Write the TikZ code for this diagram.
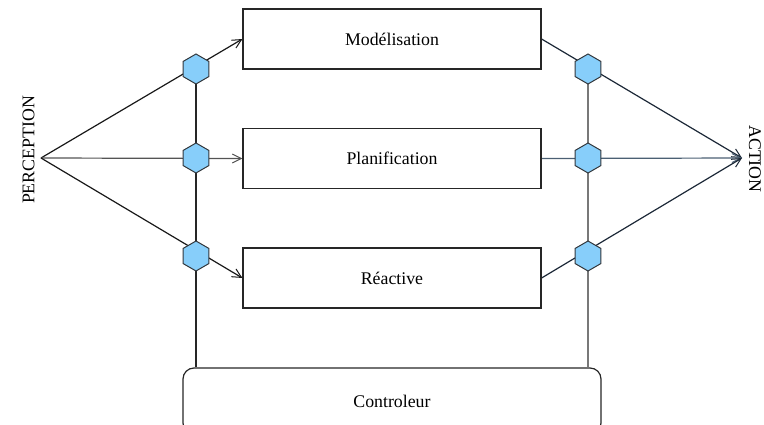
\documentclass[tikz,border=0pt]{standalone}
\usepackage{fontspec}
\setmainfont{Liberation Serif}
\usetikzlibrary{shapes.geometric,arrows.meta,backgrounds}
\definecolor{hexfill}{RGB}{135,206,250}
\definecolor{hexdraw}{RGB}{50,55,60}
\definecolor{navy}{RGB}{28,40,55}
\definecolor{midgray}{RGB}{120,120,120}
\definecolor{slate}{RGB}{75,95,115}
\tikzset{
  x=1pt, y=-1pt,
  every node/.style={font=\fontsize{17.8}{20}\selectfont},
  layerbox/.style={draw=black!85, line width=1.2pt, minimum width=298pt, minimum height=60pt, inner sep=0pt},
  ctrlbox/.style={draw=black!85, line width=1.2pt, rounded corners=11pt, minimum width=418pt, minimum height=66pt, inner sep=0pt},
  junction/.style={regular polygon, regular polygon sides=6, shape border rotate=30, draw=hexdraw, fill=hexfill, line width=1pt, minimum size=30pt, inner sep=0pt},
  wire/.style={line width=1.2pt},
  barb/.style={-{Straight Barb[length=9pt,width=9pt,line width=1pt]}},
  vert/.style={rotate=#1, inner sep=0pt}
}
\begin{document}
\begin{tikzpicture}
\useasboundingbox (0,0) rectangle (764,425);
\clip (0,0) rectangle (764,425);

% processing layers
\node[layerbox] (mod)  at (392,39)    {Modélisation};
\node[layerbox] (plan) at (392,158.5) {Planification};
\node[layerbox] (rea)  at (392,278)   {Réactive};
\node[ctrlbox]  (ctrl) at (392,401)   {Controleur};

% junctions on the input side
\node[junction] (l1) at (196,69)  {};
\node[junction] (l2) at (196,158) {};
\node[junction] (l3) at (196,256) {};
% junctions on the output side
\node[junction] (r1) at (588,69)  {};
\node[junction] (r2) at (588,158) {};
\node[junction] (r3) at (588,256) {};

% sensing and acting points
\coordinate (in)  at (41,158);
\coordinate (out) at (742,158);
\node[vert=90]  (perc) at (28.5,150) {PERCEPTION};
\node[vert=-90] (act)  at (755,159)  {ACTION};

\begin{scope}[on background layer]
  % perception fan
  \draw[wire, barb, color=black!90] (in) -- (mod.west);
  \draw[wire, barb, color=midgray!70!black] (in) -- (plan.west);
  \draw[wire, barb, color=black!90] (in) -- (rea.west);
  % action fan
  \draw[wire, barb, color=navy] (mod.east) -- (out);
  \draw[wire, barb, color=slate] (plan.east) -- (out);
  \draw[wire, barb, color=navy] (rea.east) -- (out);
  % links to the controller
  \draw[wire, color=black!85] (l1.center) -- (l1.center |- ctrl.north);
  \draw[wire, color=midgray] (r1.center) -- (r1.center |- ctrl.north);
\end{scope}
\end{tikzpicture}
\end{document}
